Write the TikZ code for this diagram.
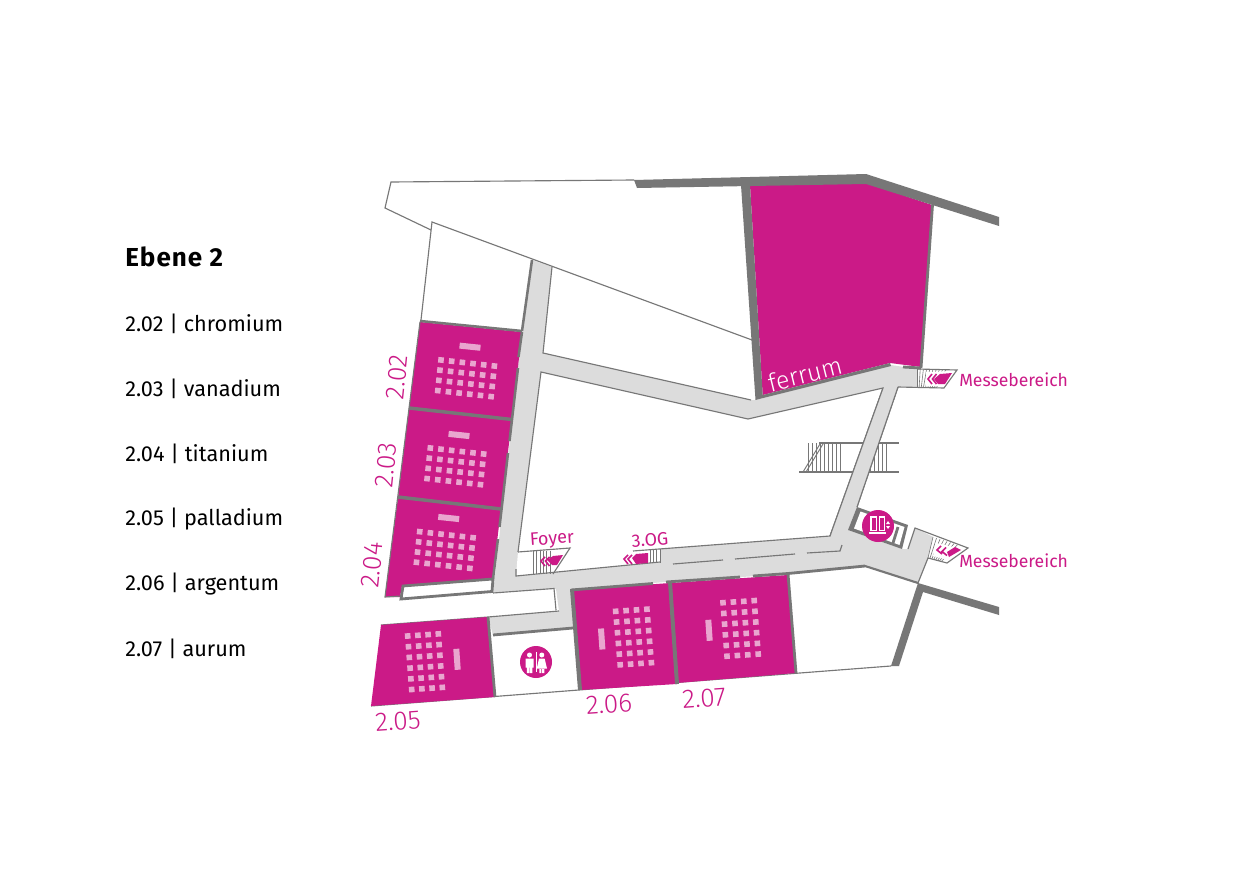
\documentclass[tikz,border=0pt]{standalone}
\usepackage{fontspec}
\setmainfont{Fira Sans}
\newfontfamily\lightf{Fira Sans Light}
\usetikzlibrary{calc}
\definecolor{mag}{HTML}{CB1A87}
\definecolor{seatc}{HTML}{E9A6CF}
\definecolor{wallc}{HTML}{777777}
\definecolor{corr}{HTML}{DCDCDC}
\newcommand{\px}[1]{\fontsize{\fpeval{#1*0.75}}{\fpeval{#1*0.9}}\selectfont}
\newcommand{\seatgrid}[8]{%
  \foreach \i in {1,...,#7}{\foreach \j in {1,...,#8}{%
    \fill[seatc,shift={({#1+(\i-1)*#3+(\j-1)*#5},{#2+(\i-1)*#4+(\j-1)*#6})},rotate=\seatrot] (-2.8,-2.8) rectangle (2.8,2.8);
  }}}
\newcommand{\seatrot}{0}
\tikzset{
  room/.style={fill=mag},
  wall/.style={draw=wallc,line width=2.1pt},
  thick wall/.style={draw=wallc,line width=3pt},
  thinline/.style={draw=wallc,line width=0.85pt},
  tick/.style={draw=wallc,line width=0.45pt},
  chev/.style={draw=mag,line width=1.2pt,fill=none},
  maglabel/.style={text=mag,inner sep=0pt,font=\lightf\px{26.5}},
  smalllabel/.style={text=mag,inner sep=0pt,font=\px{18}},
  listlabel/.style={text=black,anchor=west,inner sep=0pt,font=\px{21.7}},
  lectern/.style={fill=seatc},
  icon/.style={fill=mag},
}
\begin{document}
\begin{tikzpicture}[x=0.75pt,y=-0.75pt]
\useasboundingbox (0,0) rectangle (1240,874);
\fill[white] (0,0) rectangle (1240,874);
% corridor
\fill[corr] (532,260)--(552,267)--(543,353)--(751,400)--(756,400)--(891,365)--(917,369)--(917,387)--(898,387)--(857,507)--(848,530)--(902,549)--(908,549)--(915,528)--(933,537)--(928,558)--(918,583)--(865,566)--(788,574)--(665,582)--(572,590)--(573,628)--(493,635)--(488,617)--(559,611)--(556,589)--(493,594)--(522,330)--cycle;
\fill[white] (541,372)--(748,419)--(883,388)--(830,536)--(660,549)--(660,562)--(516,576)--(518,552)--cycle;
\fill[white] (493,593)--(554,588.5)--(556,610)--(488,616)--(440,620)--(400,600)--cycle;
% outer thin lines
\draw[thinline] (634,180)--(391,182)--(385,208)--(431,230);
\draw[thinline] (421,320)--(432,222)--(752,340);
\draw[thinline] (552,267)--(543,353)--(751,400);
\draw[thinline] (518,552)--(541,372)--(748,419)--(883,388)--(830,536)--(633,551);
\draw[thinline] (518,552)--(570,548)--(553,574);
\draw[thinline] (516,569)--(516,576)--(660,562);
\draw[thinline] (898,387)--(857,507);
\draw[thinline] (898,387)--(944,388)--(957,370)--(917,369);
\draw[thinline] (908,549)--(915,528)--(968,548)--(947,563)--(928,558)--(918,583);
\draw[thinline] (673,564)--(723,560) (735,559)--(795,554) (807,553)--(840,551)--(842,545);
\draw[thinline] (381,625)--(488,617)--(559,611) (493,593)--(554,588.5)--(556,610);
\draw[thinline] (371,706)--(891,666);
% stairs
\draw[thinline] (819,443)--(899,443) (799,472)--(899,472);
\draw[tick,line width=0.7pt] (820,444)--(803,472) (823,444)--(806,472);
\foreach \x in {808,812,...,840,870,874,...,887} \draw[tick] (\x,443)--(\x,472);
\fill[corr] (883,388)--(898,387)--(857,507)--(830,536)--cycle;
\draw[thinline] (883,388)--(830,536) (898,387)--(857,507);
\foreach \x in {533,536.4,...,553} \draw[tick] (\x,551)--(\x,574);
\foreach \x in {650,653.3,...,660.5} \draw[tick] (\x,549)--(\x,562.5);
\coordinate (ma) at (917,369); \coordinate (mb) at (957,370); \coordinate (mc) at (917,387); \coordinate (md) at (944,388);
\foreach \t in {0,0.08,...,0.75} \draw[tick] ($(ma)!\t!(mb)$)--($(mc)!\t!(md)$);
\coordinate (na) at (933,537); \coordinate (nb) at (968,548); \coordinate (nc) at (928,558); \coordinate (nd) at (947,563);
\foreach \t in {0,0.1,...,0.75} \draw[tick] ($(na)!\t!(nb)$)--($(nc)!\t!(nd)$);
% stair arrows
\fill[white] (926,372)--(954,371)--(944,386)--(926,386)--cycle;
\fill[mag] (934,379)--(940,374)--(952,373)--(945,384)--(938,384)--cycle;
\draw[chev] (932,374)--(928,379)--(932,384) (936.5,374)--(932.5,379)--(936.5,384);
\fill[white] (936,543)--(963,549)--(948,560)--(933,556)--cycle;
\fill[mag] (947,552)--(955,547)--(961,550)--(949,557)--cycle;
\draw[chev] (941,546)--(937,550)--(942,554) (946,547.5)--(942,551.5)--(947,555.5);
\fill[mag] (547,560)--(553,556)--(563,555)--(557,565)--(552,565)--cycle;
\draw[chev] (545,557)--(541,561)--(545,566) (549.5,557)--(545.5,561)--(549.5,566);
\fill[mag] (632,558)--(636,554)--(648,553)--(648,563)--(636,564)--cycle;
\draw[chev] (628,555)--(624,559)--(628,564) (632,555)--(628,559)--(632,564);
% rooms
\fill[room] (750,185)--(866,183)--(932,205)--(921,367)--(890,363)--(762.7,395)--cycle;
\fill[room] (420,322)--(522,332)--(512,419)--(409,408)--cycle;
\fill[room] (409,408)--(512,419)--(501,509)--(398,497)--cycle;
\fill[room] (398,497)--(501,509)--(492.5,579)--(402,586)--(400,597)--(385,597)--cycle;
\fill[room] (381,625)--(488,617)--(495,697)--(371,706)--cycle;
\fill[room] (573,590)--(670,583)--(677,684)--(581,690)--cycle;
\fill[room] (670,583)--(788,575)--(796,673)--(677,683)--cycle;
% walls
\fill[wallc] (634,180)--(866,174)--(999,217)--(999,226)--(866,184)--(637,188)--cycle;
\fill[wallc] (741,185)--(750,185)--(762.7,395)--(890,363)--(891,366)--(755.5,400)--cycle;
\draw[wall] (932.5,205)--(921,368) (903,367)--(921,368);
\fill[wallc] (918,583)--(999,607)--(999,615)--(923,592)--(899,666)--(891,666)--(917,586)--cycle;
\draw[wall,line width=1.9pt] (532,260)--(522,331);
\draw[wall,line width=1.9pt] (420,321)--(522,331) (522,332)--(518.5,357) (518,368)--(509.5,441) (508,453)--(499.5,527) (498,539)--(493,579);
\draw[wall,line width=2.6pt] (409,408)--(512,419.5) (398,497)--(501,509);
\draw[thinline] (420,322)--(385,597)--(401,596);
\draw[wall] (403,586)--(493,579)--(492,591.5)--(401,599)--cycle;
\fill[white] (404.5,588)--(490.5,581.5)--(489.5,589.5)--(403.5,596.5)--cycle;
\draw[wall] (488,617)--(495,697);
\draw[wall] (493,635)--(573,628);
\draw[thick wall] (572,589)--(580,690);
\draw[wall] (571,590)--(653,583.5);
\draw[thick wall] (670,582)--(677,684);
\draw[wall] (666,582)--(740,577) (753,576)--(788,573.5)--(865,566);
\draw[wall,line width=1.6pt] (865,566)--(918,583);
\draw[wall] (788,574)--(796,673);
% elevator room
\fill[wallc] (857,507)--(908,525)--(902,549)--(848,530)--cycle;
\fill[white] (860.5,511.5)--(904.5,527)--(899.5,545)--(854,528.5)--cycle;
\draw[wall] (898,527)--(893,543);
% lecterns and seats
\renewcommand{\seatrot}{-6}
\fill[lectern,shift={(470,346.7)},rotate=-6] (-10.5,-3) rectangle (10.5,3);
\seatgrid{441}{360}{10.67}{1.2}{-1.07}{10.2}{6}{4}
\fill[lectern,shift={(459,435)},rotate=-6] (-10.5,-3) rectangle (10.5,3);
\seatgrid{430.3}{448}{10.67}{1.2}{-1.07}{10.2}{6}{4}
\fill[lectern,shift={(448.7,518)},rotate=-6] (-10.5,-3) rectangle (10.5,3);
\seatgrid{419.7}{531.7}{10.67}{1.2}{-1.07}{10.2}{6}{4}
\renewcommand{\seatrot}{4}
\fill[lectern,shift={(457,659.3)},rotate=4] (-3,-10.5) rectangle (3,10.5);
\seatgrid{407.7}{636}{10.2}{-0.7}{0.8}{10.7}{4}{6}
\fill[lectern,shift={(601.7,639)},rotate=4] (-3,-10.5) rectangle (3,10.5);
\seatgrid{615.7}{611.3}{10.4}{-0.7}{0.9}{10.7}{4}{6}
\fill[lectern,shift={(709,630.3)},rotate=4] (-3,-10.5) rectangle (3,10.5);
\seatgrid{723}{602.7}{10.4}{-0.7}{0.8}{10.7}{4}{6}
% elevator icon
\fill[icon] (878,526) circle (16);
\fill[white] (869.5,516) rectangle (877,531);
\fill[white] (878.5,516) rectangle (885,531);
\fill[icon] (871.5,518) rectangle (875.5,530);
\fill[icon] (880,518) rectangle (883.5,530);
\fill[white] (869,532) rectangle (886,533.5);
\fill[white] (888,521)--(890,524)--(886,524)--cycle (888,529)--(890,526)--(886,526)--cycle;
% WC icon
\fill[icon] (536,662) circle (16);
\fill[white] (535.6,652) rectangle (536.4,672);
\fill[white] (529.5,655) circle (2.5) (541.8,655) circle (2.5);
\fill[white] (525.5,658.5) rectangle (533.5,667.5) (526.8,667) rectangle (529.3,673) (529.9,667) rectangle (532.3,673);
\fill[white] (539,658.5)--(544.6,658.5)--(547,668.5)--(536.8,668.5)--cycle (539.3,668) rectangle (541.4,673) (542.2,668) rectangle (544.3,673);
% labels
\node[maglabel,rotate=84] (l202) at (397,377) {2.02};
\node[maglabel,rotate=84] (l203) at (386,465) {2.03};
\node[maglabel,rotate=84] (l204) at (372,565) {2.04};
\node[maglabel,rotate=4] (l205) at (398,721) {2.05};
\node[maglabel,rotate=4] (l206) at (609,704) {2.06};
\node[maglabel,rotate=4] (l207) at (704,698) {2.07};
\node[text=white,inner sep=0pt,font=\lightf\px{25},rotate=14] (lfe) at (805,374) {ferrum};
\node[smalllabel,anchor=west,font=\px{17.6}] (m1) at (959,380) {Messebereich};
\node[smalllabel,anchor=west,font=\px{17.6}] (m2) at (959,561) {Messebereich};
\node[smalllabel,rotate=4] (lfo) at (552,540) {Foyer};
\node[smalllabel,rotate=4] (log) at (650,540) {3.OG};
\node[text=black,anchor=west,inner sep=0pt,font=\px{26}\bfseries\addfontfeature{LetterSpace=4}] (eb) at (125,257) {Ebene 2};
\node[listlabel] (a) at (125,324) {2.02 | chromium};
\node[listlabel] (b) at (125,389) {2.03 | vanadium};
\node[listlabel] (c) at (125,454) {2.04 | titanium};
\node[listlabel] (d) at (125,519) {2.05 | palladium};
\node[listlabel] (e) at (125,584) {2.06 | argentum};
\node[listlabel] (f) at (125,649) {2.07 | aurum};
\end{tikzpicture}
\end{document}
